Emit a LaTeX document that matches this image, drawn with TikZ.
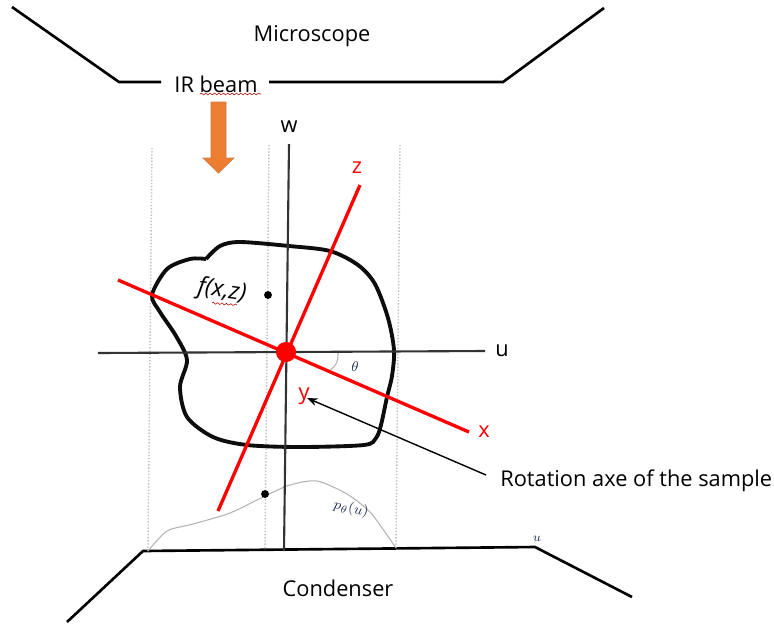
\documentclass[tikz,border=0pt]{standalone}
\usepackage{xcolor}
\usepackage{fontspec}
\setmainfont{Open Sans}
\definecolor{beamorange}{RGB}{237,125,49}
\definecolor{beamedge}{RGB}{200,125,70}
\definecolor{thetablue}{RGB}{35,50,85}
\usetikzlibrary{arrows.meta, positioning, decorations.pathmorphing}

\begin{document}
\begin{tikzpicture}[
          x=0.02cm, y=-0.02cm,
          label/.style={font=\fontsize{12.4}{14}\selectfont, inner sep=0pt},
          redlabel/.style={label, text=red},
          mathlabel/.style={text=thetablue, inner sep=0pt},
          stage/.style={black, line width=1.5pt},
          axis/.style={black!80, line width=1.2pt},
          redaxis/.style={red, line width=1.9pt},
          guide/.style={black!25, line width=0.8pt, densely dotted},
          outline/.style={black!95, line width=2.2pt, line join=round},
          blackdot/.style={circle, fill=black, inner sep=0pt, minimum size=4.5pt},
          squiggle/.style={red!70!black, line width=0.3pt, decorate,
              decoration={snake, amplitude=0.5pt, segment length=2.5pt}}
        ]
        \useasboundingbox (0,0) rectangle (774,623);

        % microscope and condenser
        \node[label] (microscope) at (312,36) {Microscope};
        \node[label] (beam) at (216,84) {IR beam};
        \node[label] (condenser) at (338,588) {Condenser};

        \coordinate (m1) at (12,7);
        \coordinate (m2) at (119,82);
        \coordinate (m3) at (503,82);
        \coordinate (m4) at (604,8);
        \coordinate (gapleft) at (161,82);
        \coordinate (gapright) at (269,82);
        \draw[stage] (m1) -- (m2) -- (gapleft);
        \draw[stage] (gapright) -- (m3) -- (m4);

        \coordinate (c1) at (67,622);
        \coordinate (c2) at (143,551);
        \coordinate (c3) at (535,547);
        \coordinate (c4) at (632,597);
        \draw[stage] (c1) -- (c2) -- (c3) -- (c4);

        \draw[squiggle] (200,94) -- (261,94);
        \draw[squiggle] (212,303) -- (237,305);

        % orange arrow
        \draw[beamedge, fill=beamorange, line width=0.4pt]
          (211,102) -- (226,102) -- (226,158) -- (234,158) -- (218.5,173)
          -- (203,158) -- (211,158) -- cycle;

        % projection guides
        \draw[guide] (152,148) -- (148,551);
        \draw[guide] (269,145) -- (265,550);
        \draw[guide] (400,145) -- (396,548);

        % sample
        \draw[outline] plot[smooth, tension=0.5] coordinates {
            (206,259) (220,246) (240,242) (289,246) (330,251) (358,265) (375,284)
            (388,318) (394,350) (392,376) (387,397) (381,425) (376,438) (364,445)
            (300,447) (247,445) (213,437) (187,417) (180,387) (187,360) (176,336)
            (160,312) (152,295) (167,269) (190,259) (206,259)};

        % projection profile
        \draw[black!30, line width=0.6pt] plot[smooth, tension=0.45] coordinates {
            (148,551) (167,531) (193,524) (230,513) (265,496) (290,485) (317,481)
            (347,494) (370,512) (387,535) (396,548)};

        \node[blackdot] (dottop) at (268,295) {};
        \node[blackdot] (dotbottom) at (265,494) {};

        % fixed axes
        \node[label] (wlabel) at (289,127) {w};
        \node[label] (ulabel) at (502,351) {u};
        \coordinate (wtop) at (289,144);
        \coordinate (wbottom) at (284,551);
        \coordinate (uleft) at (98,353);
        \coordinate (uright) at (485,351);
        \draw[axis] (wtop) -- (wbottom);
        \draw[axis] (uleft) -- (uright);

        % sample axes
        \node[redlabel] (xlabel) at (484,432) {x};
        \node[redlabel] (zlabel) at (357,168) {z};
        \node[redlabel] (ylabel) at (304,396) {y};
        \coordinate (xleft) at (118,280);
        \coordinate (xright) at (469,432);
        \coordinate (ztop) at (360,185);
        \coordinate (zbottom) at (218,511);
        \draw[redaxis] (xleft) -- (xright);
        \draw[redaxis] (ztop) -- (zbottom);
        \node[circle, fill=red, inner sep=0pt, minimum size=11.5pt] (origin) at (286,352) {};

        \draw[black!30, line width=0.6pt] (338,353) to[out=-85, in=30] (330,370);

        % labels
        \node[label, rotate=-8, font=\fontsize{13.5}{15}\selectfont] (fxz) at (222,291) {\textit{f(x,z)}};
        \node[mathlabel, font=\footnotesize] (thetalabel) at (355,367) {$\theta$};
        \node[mathlabel, font=\footnotesize, rotate=-12] (plabel) at (351,509) {$p_{\theta}(u)$};
        \node[mathlabel, font=\scriptsize] (usmall) at (537,539) {$u$};

        \node[label, anchor=west] (rotation) at (500,481) {Rotation axe of the sample};
        \coordinate (rotstart) at (486,475);
        \coordinate (rottip) at (307,398);
        \draw[-{Stealth[length=6pt]}, black, line width=0.8pt] (rotstart) -- (rottip);
      \end{tikzpicture}
\end{document}
